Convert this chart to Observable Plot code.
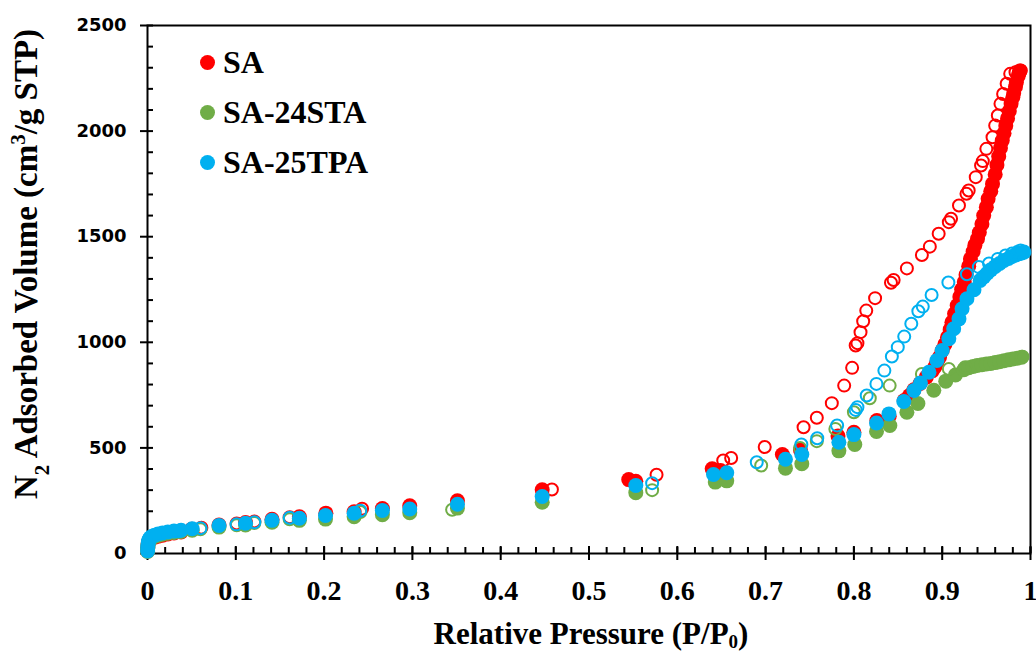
<!DOCTYPE html>
<html>
<head>
<meta charset="utf-8">
<script src="https://cdn.jsdelivr.net/npm/d3@7"></script>
<script src="https://cdn.jsdelivr.net/npm/@observablehq/plot@0.6"></script>
<style>
  body { margin: 0; background: #fff; }
  #chart { position: relative; width: 1036px; height: 651px; }
  #legend { position: absolute; left: 200px; top: 37px; font-family: "Liberation Serif", "Times New Roman", serif; font-weight: bold; font-size: 32px; color: #000; }
  #legend .row { display: flex; align-items: center; height: 50px; }
  #legend .sw { width: 15px; height: 15px; border-radius: 50%; margin-right: 8px; }
</style>
</head>
<body>
<div id="chart"></div>
<script>
// N2 adsorption–desorption isotherms: [relative pressure P/P0, adsorbed volume cm3/g STP]
const samples = ["SA", "SA-24STA", "SA-25TPA"];
const colors = ["#FF0000", "#70AD47", "#00B0F0"];

const saAdsorption = [
  [0.0001, 12], [0.0003, 30], [0.0007, 45], [0.0015, 57], [0.003, 66], [0.005, 72], [0.008, 77],
  [0.012, 82], [0.017, 87], [0.023, 92], [0.03, 97], [0.038, 102], [0.05, 115], [0.081, 135],
  [0.111, 147], [0.141, 162], [0.172, 174], [0.202, 191], [0.234, 198], [0.266, 213], [0.297, 226],
  [0.351, 250], [0.447, 302], [0.545, 350], [0.553, 342], [0.6395, 401], [0.649, 393], [0.719, 469],
  [0.7395, 490], [0.782, 556], [0.800, 574], [0.826, 630], [0.840, 650], [0.857, 724], [0.863, 748],
  [0.868, 775], [0.875, 805], [0.882, 835], [0.889, 866], [0.892, 885], [0.894, 906], [0.897, 930],
  [0.900, 961], [0.903, 990], [0.906, 1024], [0.909, 1060], [0.911, 1095], [0.914, 1135],
  [0.917, 1174], [0.920, 1215], [0.922, 1250], [0.925, 1285], [0.927, 1320], [0.930, 1360],
  [0.932, 1395], [0.935, 1430], [0.937, 1460], [0.940, 1490], [0.942, 1520], [0.945, 1560],
  [0.947, 1600], [0.950, 1640], [0.952, 1680], [0.955, 1715], [0.957, 1750], [0.960, 1795],
  [0.962, 1840], [0.964, 1880], [0.966, 1920], [0.968, 1955], [0.970, 1990], [0.972, 2025],
  [0.974, 2060], [0.976, 2095], [0.978, 2130], [0.980, 2160], [0.981, 2180], [0.983, 2210],
  [0.984, 2230], [0.986, 2260], [0.987, 2275], [0.988, 2285]
];
const saDesorption = [
  [0.989, 2287], [0.983, 2279], [0.977, 2271], [0.973, 2224], [0.969, 2176], [0.966, 2129],
  [0.963, 2074], [0.960, 2026], [0.957, 1971], [0.950, 1916], [0.946, 1858], [0.944, 1837],
  [0.938, 1782], [0.930, 1719], [0.9275, 1703], [0.919, 1648], [0.910, 1585], [0.9075, 1569],
  [0.896, 1514], [0.886, 1453], [0.877, 1413], [0.860, 1350], [0.845, 1295], [0.842, 1282],
  [0.824, 1209], [0.814, 1150], [0.8105, 1100], [0.8075, 1048], [0.804, 996], [0.802, 985],
  [0.798, 879], [0.789, 795], [0.775, 712], [0.758, 643], [0.743, 598], [0.699, 504], [0.661, 452],
  [0.652, 440], [0.5765, 373], [0.458, 303], [0.243, 212], [0.161, 172], [0.121, 152], [0.101, 142],
  [0.061, 122], [0.036, 108]
];

const sta24Adsorption = [
  [0.0001, 10], [0.0003, 25], [0.0006, 38], [0.001, 50], [0.0018, 60], [0.003, 68], [0.005, 75],
  [0.008, 81], [0.012, 86], [0.017, 91], [0.023, 96], [0.03, 100], [0.038, 104], [0.0506, 110],
  [0.081, 125], [0.111, 135], [0.141, 148], [0.172, 157], [0.2016, 163], [0.234, 174], [0.266, 184],
  [0.297, 193], [0.351, 215], [0.447, 243], [0.553, 288], [0.643, 338], [0.656, 344], [0.7225, 404],
  [0.741, 425], [0.783, 486], [0.801, 516], [0.8256, 578], [0.8407, 606], [0.860, 669], [0.8725, 710],
  [0.8905, 773], [0.904, 816], [0.915, 845], [0.9245, 870], [0.930, 880], [0.935, 886], [0.9396, 890],
  [0.945, 894], [0.950, 897], [0.955, 900], [0.960, 904], [0.965, 908], [0.970, 913], [0.975, 917],
  [0.980, 921], [0.985, 925], [0.990, 929]
];
const sta24Desorption = [
  [0.991, 932], [0.926, 882], [0.9075, 874], [0.877, 850], [0.8405, 795], [0.818, 735], [0.800, 669],
  [0.779, 590], [0.758, 532], [0.739, 500], [0.695, 417], [0.5715, 300], [0.345, 207], [0.241, 196],
  [0.161, 162], [0.121, 144], [0.101, 134], [0.060, 115], [0.035, 102]
];

const tpa25Adsorption = [
  [0.0001, 12], [0.0003, 28], [0.0006, 42], [0.001, 55], [0.0018, 66], [0.003, 74], [0.005, 81],
  [0.008, 87], [0.012, 92], [0.017, 97], [0.023, 102], [0.03, 106], [0.038, 110], [0.0506, 117],
  [0.081, 133], [0.111, 143], [0.141, 157], [0.172, 167], [0.2016, 180], [0.234, 191], [0.266, 204],
  [0.297, 211], [0.351, 233], [0.447, 270], [0.553, 322], [0.641, 374], [0.656, 382], [0.7225, 446],
  [0.741, 469], [0.783, 527], [0.800, 563], [0.8256, 618], [0.8397, 661], [0.8565, 720], [0.868, 772],
  [0.8754, 807], [0.885, 858], [0.894, 914], [0.900, 961], [0.9075, 1017], [0.913, 1064],
  [0.919, 1111], [0.9225, 1159], [0.928, 1206], [0.936, 1249], [0.943, 1293], [0.947, 1310],
  [0.951, 1327], [0.955, 1343], [0.960, 1359], [0.965, 1373], [0.970, 1387], [0.975, 1397],
  [0.979, 1406], [0.983, 1413], [0.987, 1419], [0.990, 1423], [0.9925, 1427]
];
const tpa25Desorption = [
  [0.9887, 1435], [0.985, 1427], [0.979, 1420], [0.9717, 1411], [0.963, 1395], [0.953, 1373],
  [0.9415, 1356], [0.928, 1322], [0.907, 1283], [0.888, 1224], [0.878, 1169], [0.873, 1147],
  [0.865, 1088], [0.857, 1027], [0.8497, 977], [0.843, 933], [0.8345, 866], [0.8255, 803],
  [0.8145, 748], [0.804, 693], [0.802, 680], [0.781, 606], [0.7585, 546], [0.7405, 516], [0.690, 432],
  [0.5715, 333], [0.241, 203], [0.161, 169], [0.121, 148], [0.1008, 138], [0.060, 120], [0.035, 105]
];

// axis ticks
const xTicks = [0, 0.1, 0.2, 0.3, 0.4, 0.5, 0.6, 0.7, 0.8, 0.9, 1];
const xMinorTicks = d3.range(0, 51).map(i => i / 50);
const yTicks = [0, 500, 1000, 1500, 2000, 2500];
const yMinorTicks = d3.range(0, 26).map(i => i * 100);

const series = [
  [saAdsorption, saDesorption],
  [sta24Adsorption, sta24Desorption],
  [tpa25Adsorption, tpa25Desorption]
];
const rows = [];
series.forEach(([ads, des], i) => {
  ads.forEach(([p, v]) => rows.push({sample: samples[i], branch: "adsorption", p, v}));
  des.forEach(([p, v]) => rows.push({sample: samples[i], branch: "desorption", p, v}));
});

// filled markers for adsorption, hollow markers for desorption
const dotMarks = [];
samples.forEach((s, i) => {
  dotMarks.push(Plot.dot(rows.filter(d => d.sample === s && d.branch === "adsorption"),
    {x: "p", y: "v", r: 7.5, fill: colors[i], stroke: "none"}));
  dotMarks.push(Plot.dot(rows.filter(d => d.sample === s && d.branch === "desorption"),
    {x: "p", y: "v", r: 6, fill: "none", stroke: colors[i], strokeWidth: 2}));
});

const fmt = d => String(+d.toFixed(1));

const chart = Plot.plot({
  width: 1036,
  height: 651,
  marginLeft: 147,
  marginRight: 6,
  marginTop: 25,
  marginBottom: 98,
  style: {fontFamily: "'Liberation Serif', 'Times New Roman', serif", color: "#000", background: "#fff", overflow: "visible"},
  x: {domain: [0, 1]},
  y: {domain: [0, 2500]},
  marks: [
    Plot.frame({stroke: "#000", strokeWidth: 2}),
    Plot.axisY({ticks: yMinorTicks, tickSize: 6, dx: 6, fill: "none", strokeWidth: 2, label: null}),
    Plot.axisY({ticks: yTicks, tickSize: 7, tickPadding: 14, tickFormat: d => String(d), strokeWidth: 2,
      fontSize: 18, fontFamily: "'DejaVu Sans', sans-serif", fontWeight: "bold", label: null}),
    Plot.axisX({ticks: xMinorTicks, tickSize: 6, dy: -6, fill: "none", strokeWidth: 2, label: null}),
    Plot.axisX({ticks: xTicks, tickSize: 14, dy: -7, fill: "none", strokeWidth: 2, label: null}),
    Plot.axisX({ticks: xTicks, tickSize: 0, tickPadding: 27, tickFormat: fmt, fontSize: 28,
      fontWeight: "bold", label: null}),
    ...dotMarks
  ]
});

const root = document.getElementById("chart");
root.appendChild(chart);

// axis titles with sub/superscripts
const svg = d3.select(chart);
const xTitle = svg.append("text")
  .attr("x", 591).attr("y", 644)
  .attr("text-anchor", "middle")
  .attr("font-family", "'Liberation Serif', 'Times New Roman', serif")
  .attr("font-weight", "bold").attr("font-size", 31).attr("fill", "#000");
xTitle.append("tspan").text("Relative Pressure (P/P");
xTitle.append("tspan").attr("baseline-shift", "-4").attr("font-size", 19).text("0");
xTitle.append("tspan").text(")");

const yTitle = svg.append("text")
  .attr("transform", "translate(37,264) rotate(-90)")
  .attr("text-anchor", "middle")
  .attr("font-family", "'Liberation Serif', 'Times New Roman', serif")
  .attr("font-weight", "bold").attr("font-size", 33).attr("fill", "#000");
yTitle.append("tspan").text("N");
yTitle.append("tspan").attr("baseline-shift", "sub").attr("font-size", 21).text("2");
yTitle.append("tspan").text(" Adsorbed Volume (cm");
yTitle.append("tspan").attr("baseline-shift", "super").attr("font-size", 21).text("3");
yTitle.append("tspan").text("/g STP)");

// legend
const legend = document.createElement("div");
legend.id = "legend";
samples.forEach((s, i) => {
  const row = document.createElement("div");
  row.className = "row";
  const sw = document.createElement("span");
  sw.className = "sw";
  sw.style.background = colors[i];
  const label = document.createElement("span");
  label.textContent = s;
  row.appendChild(sw);
  row.appendChild(label);
  legend.appendChild(row);
});
root.appendChild(legend);
</script>
</body>
</html>
